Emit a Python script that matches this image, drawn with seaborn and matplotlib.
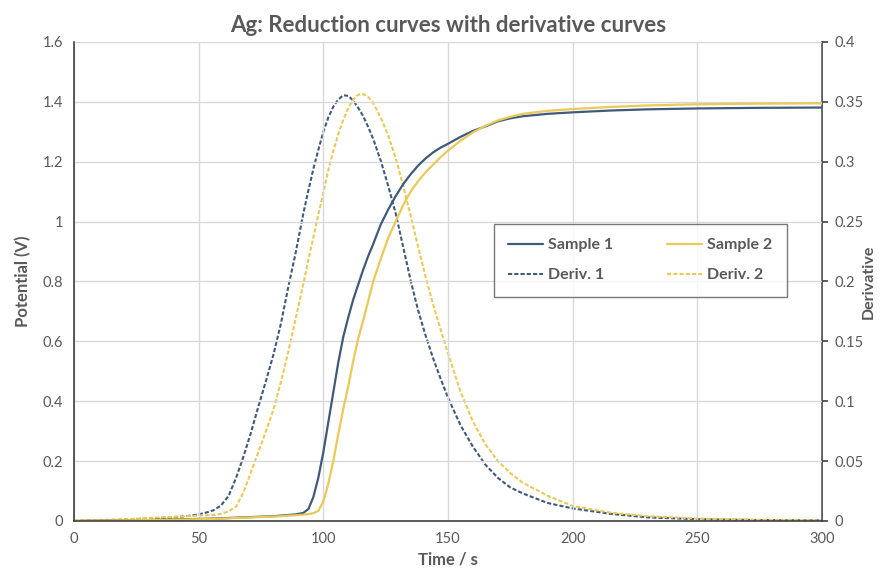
import matplotlib
matplotlib.use("Agg")
import matplotlib.pyplot as plt
import seaborn as sns
import pandas as pd

# values
time_s = [0, 10, 20, 30, 40, 45, 50, 53, 56, 59, 62, 65, 68, 71, 74, 77, 80, 83, 86,
          89, 92, 94, 96, 98, 100, 102, 104, 106, 108, 110, 112, 114, 116, 118, 120,
          123, 126, 129, 132, 135, 138, 141, 144, 147, 150, 155, 160, 165, 170, 175,
          180, 190, 200, 215, 230, 250, 275, 300]

sample_1 = [0, 0.001, 0.002, 0.003, 0.005, 0.006, 0.007, 0.0075, 0.008, 0.009, 0.010,
            0.011, 0.012, 0.013, 0.014, 0.015, 0.016, 0.018, 0.02, 0.022, 0.027, 0.04,
            0.08, 0.145, 0.23, 0.33, 0.43, 0.53, 0.615, 0.68, 0.74, 0.79, 0.84, 0.885,
            0.925, 0.99, 1.04, 1.085, 1.125, 1.158, 1.187, 1.211, 1.231, 1.247, 1.26,
            1.283, 1.303, 1.318, 1.335, 1.345, 1.352, 1.36, 1.365, 1.371, 1.375, 1.378,
            1.38, 1.381]

sample_2 = [0, 0.001, 0.002, 0.003, 0.004, 0.005, 0.006, 0.0065, 0.007, 0.008, 0.009,
            0.010, 0.011, 0.012, 0.013, 0.014, 0.015, 0.016, 0.018, 0.019, 0.021, 0.023,
            0.026, 0.034, 0.065, 0.125, 0.2, 0.29, 0.375, 0.45, 0.535, 0.61, 0.67, 0.735,
            0.8, 0.875, 0.945, 1.0, 1.055, 1.1, 1.135, 1.165, 1.19, 1.215, 1.237, 1.27,
            1.298, 1.32, 1.338, 1.35, 1.36, 1.37, 1.376, 1.383, 1.388, 1.392, 1.394,
            1.395]

deriv_1 = [0, 0.0005, 0.001, 0.002, 0.003, 0.004, 0.0055, 0.007, 0.009, 0.013, 0.021,
           0.036, 0.054, 0.074, 0.096, 0.117, 0.139, 0.165, 0.196, 0.225, 0.257, 0.276,
           0.294, 0.31, 0.325, 0.337, 0.346, 0.352, 0.3555, 0.355, 0.351, 0.345, 0.338,
           0.329, 0.319, 0.301, 0.28, 0.257, 0.229, 0.201, 0.176, 0.155, 0.136, 0.119,
           0.103, 0.08, 0.062, 0.047, 0.036, 0.028, 0.023, 0.015, 0.0105, 0.006, 0.003,
           0.0015, 0.0008, 0.0005]

deriv_2 = [0, 0.0008, 0.0015, 0.0025, 0.0035, 0.004, 0.0045, 0.0048, 0.005, 0.006,
           0.008, 0.012, 0.024, 0.041, 0.058, 0.075, 0.093, 0.116, 0.142, 0.17, 0.198,
           0.218, 0.237, 0.256, 0.274, 0.293, 0.309, 0.323, 0.335, 0.345, 0.352, 0.356,
           0.3565, 0.354, 0.349, 0.337, 0.322, 0.303, 0.28, 0.255, 0.229, 0.204, 0.181,
           0.16, 0.14, 0.108, 0.083, 0.064, 0.05, 0.04, 0.032, 0.021, 0.0125, 0.007,
           0.004, 0.002, 0.001, 0.0005]

df = pd.DataFrame({"time": time_s, "s1": sample_1, "s2": sample_2,
                   "d1": deriv_1, "d2": deriv_2})

BLUE = "#3F5A7A"
GOLD = "#EBC956"
GREY = "#595959"

sns.set_style("white")
plt.rcParams["font.family"] = ["Lato", "DejaVu Sans"]

fig, ax = plt.subplots(figsize=(8.82, 5.79), dpi=100)
fig.subplots_adjust(left=0.0839, right=0.932, top=0.9275, bottom=0.1002)
ax2 = ax.twinx()

sns.lineplot(data=df, x="time", y="s1", ax=ax, color=BLUE, lw=1.6, label="Sample 1", legend=False)
sns.lineplot(data=df, x="time", y="s2", ax=ax, color=GOLD, lw=1.6, label="Sample 2", legend=False)
sns.lineplot(data=df, x="time", y="d1", ax=ax2, color=BLUE, lw=1.5, label="Deriv. 1", legend=False)
sns.lineplot(data=df, x="time", y="d2", ax=ax2, color=GOLD, lw=1.5, label="Deriv. 2", legend=False)
for ln in ax2.get_lines():
    ln.set_dashes((2, 1))

ax.set_xlim(0, 300)
ax.set_ylim(0, 1.6)
ax2.set_ylim(0, 0.4)
ax.set_xticks(range(0, 301, 50))
ax.set_yticks([0, 0.2, 0.4, 0.6, 0.8, 1, 1.2, 1.4, 1.6])
ax.set_yticklabels(["0", "0.2", "0.4", "0.6", "0.8", "1", "1.2", "1.4", "1.6"])
ax2.set_yticks([0, 0.05, 0.1, 0.15, 0.2, 0.25, 0.3, 0.35, 0.4])
ax2.set_yticklabels(["0", "0.05", "0.1", "0.15", "0.2", "0.25", "0.3", "0.35", "0.4"])

ax.grid(True, color="#D9D9D9", lw=1)
ax.set_axisbelow(True)
ax.set_zorder(ax2.get_zorder() + 1)
ax.patch.set_visible(False)

for a in (ax, ax2):
    a.spines["top"].set_visible(False)
ax.spines["right"].set_visible(False)
ax2.spines["left"].set_visible(False)
ax2.spines["bottom"].set_visible(False)
for sp in (ax.spines["left"], ax.spines["bottom"], ax2.spines["right"]):
    sp.set_color("#404040")
    sp.set_linewidth(1.2)

ax.tick_params(axis="both", length=0, labelsize=10.5, labelcolor=GREY, pad=8)
ax2.tick_params(axis="y", length=4, width=1.2, color="#404040", direction="out",
                labelsize=10.5, labelcolor=GREY, pad=5)

ax.set_title("Ag: Reduction curves with derivative curves", fontsize=16,
             fontweight="bold", color=GREY, pad=7)
ax.set_xlabel("Time / s", fontsize=12, fontweight="bold", color=GREY, labelpad=4)
ax.set_ylabel("Potential (V)", fontsize=12, fontweight="bold", color=GREY, labelpad=8)
ax2.set_ylabel("Derivative", fontsize=11.5, fontweight="bold", color=GREY,
               va="center")
ax2.yaxis.set_label_coords(1.062, 0.5)

h1, l1 = ax.get_legend_handles_labels()
h2, l2 = ax2.get_legend_handles_labels()
handles = [h1[0], h2[0], h1[1], h2[1]]
labels = [l1[0], l2[0], l1[1], l2[1]]
leg = ax.legend(handles, labels, ncol=2, loc="lower left", mode="expand",
                bbox_to_anchor=(0.561, 0.468, 0.392, 0.167), borderaxespad=0,
                fontsize=11.5, frameon=True, fancybox=False, handlelength=2.2,
                handletextpad=0.3, labelspacing=1.0, borderpad=0.9)
leg.get_frame().set_edgecolor("#595959")
leg.get_frame().set_linewidth(1.0)
for t in leg.get_texts():
    t.set_color(GREY)
    t.set_fontweight("bold")

fig.savefig("out.png", dpi=100)
